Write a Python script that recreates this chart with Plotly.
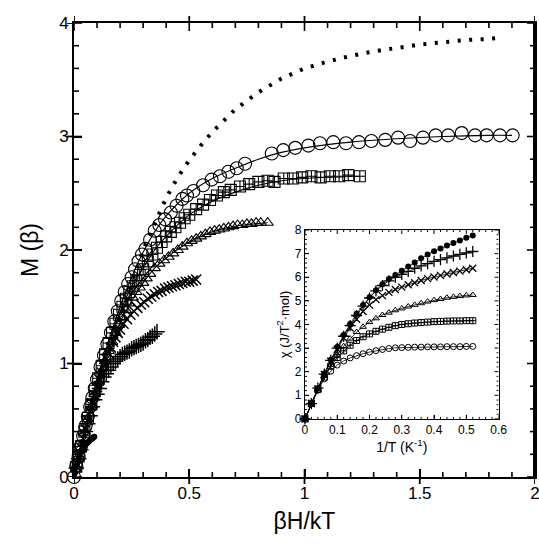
import plotly.graph_objects as go

# ---------------- main panel data ----------------
curve_x = [0, 0.05, 0.1, 0.15, 0.2, 0.25, 0.3, 0.35, 0.4, 0.45, 0.5, 0.55, 0.6, 0.7, 0.8,
           0.9, 1.0, 1.1, 1.2, 1.3, 1.4, 1.5, 1.6, 1.7, 1.8, 1.85]
curve_y = [0, 0.37, 0.73, 1.07, 1.4, 1.71, 2.0, 2.24, 2.46, 2.64, 2.79, 2.92, 3.04, 3.24, 3.39,
           3.51, 3.6, 3.66, 3.71, 3.75, 3.78, 3.81, 3.83, 3.85, 3.86, 3.87]

circ_x = [0.0, 0.01, 0.02, 0.03, 0.04, 0.05, 0.06, 0.07, 0.08, 0.09,
          0.1, 0.115, 0.13, 0.145, 0.16, 0.175, 0.19, 0.205, 0.22, 0.235,
          0.25, 0.265, 0.28, 0.295, 0.31, 0.33, 0.35, 0.37, 0.395, 0.42,
          0.445, 0.47, 0.49, 0.518, 0.56, 0.597, 0.633, 0.67, 0.706, 0.742,
          0.858, 0.908, 0.96, 1.017, 1.067, 1.125, 1.18, 1.236, 1.29, 1.35,
          1.406, 1.458, 1.514, 1.569, 1.623, 1.682, 1.74, 1.79, 1.848, 1.903]
circ_y = [0.0, 0.1, 0.18, 0.27, 0.36, 0.45, 0.53, 0.62, 0.7, 0.78,
          0.86, 0.97, 1.07, 1.17, 1.27, 1.37, 1.46, 1.55, 1.63, 1.7,
          1.76, 1.83, 1.9, 1.96, 2.01, 2.09, 2.17, 2.22, 2.27, 2.33,
          2.39, 2.45, 2.48, 2.52, 2.57, 2.62, 2.65, 2.69, 2.72, 2.76,
          2.85, 2.88, 2.9, 2.92, 2.94, 2.95, 2.94, 2.95, 2.96, 2.97,
          2.99, 2.96, 2.99, 3.01, 3.01, 3.03, 3.01, 3.01, 3.01, 3.01]
circ_fit_x = [0, 0.05, 0.1, 0.15, 0.2, 0.25, 0.3, 0.35, 0.4, 0.5, 0.6, 0.7, 0.8, 0.9, 1.0, 1.2, 1.4, 1.6, 1.8, 1.9]
circ_fit_y = [0, 0.45, 0.86, 1.2, 1.5, 1.76, 1.98, 2.16, 2.3, 2.5, 2.63, 2.72, 2.8, 2.86, 2.9, 2.95, 2.98, 3.0, 3.01, 3.01]

sq_x = [0.01, 0.02, 0.03, 0.045, 0.06, 0.075, 0.09, 0.105, 0.12, 0.135,
        0.15, 0.165, 0.18, 0.195, 0.21, 0.225, 0.24, 0.255, 0.27, 0.285,
        0.3, 0.32, 0.34, 0.36, 0.38, 0.4, 0.42, 0.44, 0.46, 0.48,
        0.5, 0.53, 0.56, 0.59, 0.62, 0.65, 0.68, 0.72, 0.76, 0.8,
        0.84, 0.87, 0.91, 0.95, 0.99, 1.03, 1.07, 1.11, 1.15, 1.19, 1.24]
sq_y = [0.09, 0.18, 0.27, 0.4, 0.52, 0.64, 0.76, 0.87, 0.98, 1.08,
        1.18, 1.27, 1.35, 1.43, 1.5, 1.57, 1.63, 1.68, 1.73, 1.78,
        1.83, 1.9, 1.96, 2.02, 2.07, 2.12, 2.16, 2.2, 2.24, 2.28,
        2.31, 2.36, 2.4, 2.44, 2.48, 2.51, 2.53, 2.56, 2.58, 2.6,
        2.61, 2.6, 2.63, 2.63, 2.64, 2.65, 2.64, 2.65, 2.65, 2.66, 2.65]
sq_fit_x = [0, 0.05, 0.1, 0.15, 0.2, 0.25, 0.3, 0.35, 0.4, 0.5, 0.6, 0.7, 0.8, 0.9, 1.0, 1.1, 1.24]
sq_fit_y = [0, 0.44, 0.83, 1.17, 1.45, 1.68, 1.84, 2.0, 2.12, 2.31, 2.43, 2.51, 2.57, 2.61, 2.63, 2.64, 2.65]

tri_x = [0.01, 0.02, 0.03, 0.045, 0.06, 0.075, 0.09, 0.105, 0.12, 0.135,
         0.15, 0.165, 0.18, 0.195, 0.21, 0.225, 0.24, 0.255, 0.27, 0.285,
         0.3, 0.315, 0.33, 0.35, 0.37, 0.39, 0.41, 0.43, 0.45, 0.47,
         0.49, 0.51, 0.53, 0.55, 0.57, 0.59, 0.61, 0.63, 0.65, 0.67,
         0.69, 0.71, 0.73, 0.75, 0.77, 0.79, 0.81, 0.84]
tri_y = [0.09, 0.18, 0.26, 0.39, 0.51, 0.62, 0.73, 0.83, 0.93, 1.02,
         1.11, 1.19, 1.27, 1.34, 1.41, 1.47, 1.53, 1.58, 1.63, 1.67,
         1.71, 1.75, 1.79, 1.84, 1.88, 1.91, 1.94, 1.97, 2.0, 2.03,
         2.06, 2.08, 2.1, 2.12, 2.14, 2.16, 2.17, 2.18, 2.19, 2.2,
         2.21, 2.22, 2.22, 2.23, 2.23, 2.24, 2.24, 2.24]
tri_fit_x = [0, 0.05, 0.1, 0.15, 0.2, 0.25, 0.3, 0.35, 0.4, 0.5, 0.6, 0.7, 0.84]
tri_fit_y = [0, 0.43, 0.8, 1.1, 1.36, 1.55, 1.71, 1.84, 1.93, 2.07, 2.16, 2.21, 2.24]

xc_x = [0.01, 0.02, 0.03, 0.04, 0.05, 0.06, 0.07, 0.08, 0.09, 0.1,
        0.11, 0.12, 0.13, 0.14, 0.15, 0.16, 0.17, 0.18, 0.19, 0.2,
        0.215, 0.23, 0.245, 0.26, 0.275, 0.29, 0.305, 0.32, 0.335, 0.35,
        0.365, 0.38, 0.395, 0.41, 0.425, 0.44, 0.455, 0.47, 0.485, 0.5, 0.515, 0.53]
xc_y = [0.09, 0.18, 0.26, 0.34, 0.42, 0.5, 0.58, 0.65, 0.72, 0.79,
        0.86, 0.92, 0.98, 1.04, 1.09, 1.14, 1.19, 1.23, 1.27, 1.3,
        1.35, 1.39, 1.43, 1.46, 1.49, 1.52, 1.54, 1.57, 1.59, 1.61,
        1.63, 1.64, 1.66, 1.67, 1.68, 1.69, 1.7, 1.71, 1.72, 1.72, 1.73, 1.74]

pl_x = [0.01, 0.02, 0.03, 0.04, 0.05, 0.06, 0.07, 0.08, 0.09, 0.1,
        0.11, 0.12, 0.13, 0.14, 0.15, 0.16, 0.17, 0.18, 0.19, 0.2,
        0.21, 0.22, 0.23, 0.24, 0.25, 0.26, 0.27, 0.28, 0.29, 0.3,
        0.31, 0.32, 0.33, 0.34, 0.35, 0.36]
pl_y = [0.08, 0.16, 0.24, 0.32, 0.4, 0.47, 0.54, 0.62, 0.68, 0.73,
        0.78, 0.84, 0.88, 0.91, 0.94, 0.97, 1.0, 1.02, 1.04, 1.06,
        1.08, 1.09, 1.1, 1.11, 1.13, 1.14, 1.15, 1.16, 1.17, 1.18,
        1.2, 1.21, 1.23, 1.24, 1.26, 1.28]

fc_x = [0.005, 0.01, 0.015, 0.02, 0.025, 0.03, 0.035, 0.04, 0.045, 0.05,
        0.055, 0.06, 0.065, 0.07, 0.075, 0.08, 0.085, 0.088]
fc_y = [0.04, 0.085, 0.125, 0.16, 0.19, 0.22, 0.24, 0.26, 0.275, 0.285,
        0.295, 0.305, 0.315, 0.325, 0.335, 0.34, 0.35, 0.355]

# ---------------- inset data ----------------
inv_t = [0, 0.02, 0.04, 0.06, 0.08, 0.1, 0.12, 0.14, 0.16, 0.18, 0.2, 0.22, 0.24, 0.26,
         0.28, 0.3, 0.32, 0.34, 0.36, 0.38, 0.4, 0.42, 0.44, 0.46, 0.48, 0.5, 0.52]
chi_filled = [0, 0.65, 1.3, 1.92, 2.5, 3.05, 3.55, 4.02, 4.45, 4.82, 5.15, 5.45, 5.7, 5.92,
              6.1, 6.27, 6.45, 6.62, 6.8, 6.96, 7.1, 7.22, 7.34, 7.45, 7.56, 7.67, 7.77]
chi_plus = [0, 0.65, 1.3, 1.9, 2.48, 3.0, 3.5, 3.95, 4.38, 4.78, 5.12, 5.42, 5.65, 5.85,
            6.0, 6.12, 6.25, 6.38, 6.48, 6.58, 6.67, 6.75, 6.82, 6.9, 6.97, 7.03, 7.09]
chi_x = [0, 0.65, 1.28, 1.88, 2.44, 2.95, 3.42, 3.85, 4.22, 4.55, 4.82, 5.05, 5.22, 5.36,
         5.48, 5.58, 5.68, 5.77, 5.86, 5.94, 6.01, 6.08, 6.14, 6.2, 6.26, 6.32, 6.38]
chi_tri = [0, 0.65, 1.27, 1.82, 2.3, 2.72, 3.08, 3.4, 3.68, 3.9, 4.1, 4.26, 4.4, 4.5,
           4.6, 4.68, 4.76, 4.83, 4.9, 4.97, 5.03, 5.08, 5.13, 5.17, 5.2, 5.23, 5.25]
chi_sq = [0, 0.66, 1.25, 1.77, 2.23, 2.6, 2.88, 3.12, 3.32, 3.48, 3.6, 3.71, 3.8, 3.88,
          3.95, 4.0, 4.03, 4.06, 4.08, 4.1, 4.12, 4.13, 4.14, 4.15, 4.15, 4.16, 4.16]
chi_circ = [0, 0.65, 1.22, 1.7, 2.02, 2.28, 2.45, 2.58, 2.68, 2.76, 2.83, 2.89, 2.94, 2.98,
            3.01, 3.02, 3.03, 3.04, 3.04, 3.05, 3.05, 3.05, 3.06, 3.06, 3.06, 3.07, 3.07]

# ---------------- tick positions ----------------
main_x_major = [0, 0.5, 1, 1.5, 2]
main_x_minor = [round(0.1 * i, 2) for i in range(21) if i % 5]
main_y_major = [0, 1, 2, 3, 4]
main_y_minor = [round(0.2 * i, 2) for i in range(21) if i % 5]
ins_x_major = [0, 0.1, 0.2, 0.3, 0.4, 0.5, 0.6]
ins_x_minor = [round(0.02 * i, 3) for i in range(31) if i % 5]
ins_y_major = [0, 1, 2, 3, 4, 5, 6, 7, 8]
ins_y_minor = [round(0.2 * i, 2) for i in range(41) if i % 5]

K = "black"
PW, PH = 461.0, 454.0           # main plot-area size in px
IX0, IX1 = 0.501, 0.921         # inset domain (paper)
IY0, IY1 = 0.128, 0.544
XR, YR = (0, 2), (0, 4)
IXR, IYR = (0, 0.6), (0, 8)

fig = go.Figure()

fig.add_trace(go.Scatter(x=curve_x, y=curve_y, mode="lines",
                         line=dict(color=K, width=4, dash="3px,8.5px")))
for fx, fy in [(circ_fit_x, circ_fit_y), (sq_fit_x, sq_fit_y), (tri_fit_x, tri_fit_y)]:
    fig.add_trace(go.Scatter(x=fx, y=fy, mode="lines", line=dict(color=K, width=1.1, shape="spline")))

def mk(symbol, size, lw):
    return dict(symbol=symbol, size=size, color=K, line=dict(color=K, width=lw))

fig.add_trace(go.Scatter(x=fc_x, y=fc_y, mode="markers", cliponaxis=False, marker=mk("circle", 6, 0)))
fig.add_trace(go.Scatter(x=pl_x, y=pl_y, mode="markers", cliponaxis=False, marker=mk("cross-thin-open", 11, 1.5)))
fig.add_trace(go.Scatter(x=xc_x, y=xc_y, mode="markers", cliponaxis=False, marker=mk("x-thin-open", 10, 1.5)))
fig.add_trace(go.Scatter(x=tri_x, y=tri_y, mode="markers", cliponaxis=False, marker=mk("triangle-up-open", 10, 1.1)))
fig.add_trace(go.Scatter(x=sq_x, y=sq_y, mode="markers", cliponaxis=False, marker=mk("square-cross-open", 11, 1.1)))
fig.add_trace(go.Scatter(x=circ_x, y=circ_y, mode="markers", cliponaxis=False, marker=mk("circle-open", 13, 1.1)))

inset_series = [
    (chi_circ, "circle-open", 6, 1.0),
    (chi_sq, "square-cross-open", 6, 1.0),
    (chi_tri, "triangle-up-open", 6, 1.0),
    (chi_x, "x-thin-open", 7, 1.3),
    (chi_plus, "cross-thin-open", 8, 1.3),
    (chi_filled, "circle", 6, 0),
]
for cy, sym, sz, lw in inset_series:
    fig.add_trace(go.Scatter(x=inv_t, y=cy, mode="lines+markers", xaxis="x2", yaxis="y2",
                             cliponaxis=False, line=dict(color=K, width=0.8),
                             marker=mk(sym, sz, lw)))

# ---------------- inward tick marks as line traces (built from the tick lists) ----------------
def tick_trace(xmaj, xmin, ymaj, ymin, xr, yr, wpx, hpx, lmaj, lmin, width, xa, ya):
    dx = (xr[1] - xr[0]) / wpx   # data units per px
    dy = (yr[1] - yr[0]) / hpx
    xs, ys = [], []
    for vals, ln in ((xmaj, lmaj), (xmin, lmin)):
        for v in vals:
            xs += [v, v, None, v, v, None]
            ys += [yr[0], yr[0] + ln * dy, None, yr[1], yr[1] - ln * dy, None]
    for vals, ln in ((ymaj, lmaj), (ymin, lmin)):
        for v in vals:
            xs += [xr[0], xr[0] + ln * dx, None, xr[1], xr[1] - ln * dx, None]
            ys += [v, v, None, v, v, None]
    return go.Scatter(x=xs, y=ys, mode="lines", xaxis=xa, yaxis=ya, hoverinfo="skip",
                      line=dict(color=K, width=width))

fig.add_trace(tick_trace(main_x_major, main_x_minor, main_y_major, main_y_minor,
                         XR, YR, PW, PH, 8, 5, 1.6, "x", "y"))
fig.add_trace(tick_trace(ins_x_major, ins_x_minor, ins_y_major, ins_y_minor,
                         IXR, IYR, (IX1 - IX0) * PW, (IY1 - IY0) * PH, 4, 2, 1.0, "x2", "y2"))
# right-hand frame edge of the main panel
fig.add_trace(go.Scatter(x=[XR[1], XR[1]], y=[YR[0], YR[1]], mode="lines", hoverinfo="skip",
                         line=dict(color=K, width=4)))

# outward halves of the main major ticks (shapes)
shapes = []
for v in main_x_major:
    shapes.append(dict(type="line", xref="x", yref="paper", x0=v, x1=v, y0=-7 / PH, y1=0,
                       line=dict(color=K, width=1.8)))
    shapes.append(dict(type="line", xref="x", yref="paper", x0=v, x1=v, y0=1, y1=1 + 7 / PH,
                       line=dict(color=K, width=1.8)))
for v in main_y_major:
    shapes.append(dict(type="line", xref="paper", yref="y", x0=-7 / PW, x1=0, y0=v, y1=v,
                       line=dict(color=K, width=1.8)))

font = "Liberation Sans, Arial, sans-serif"
fig.update_layout(
    template="none",
    width=539, height=546,
    margin=dict(l=74, r=4, t=23, b=69, autoexpand=False),
    paper_bgcolor="white", plot_bgcolor="white",
    showlegend=False,
    shapes=shapes,
    font=dict(family=font, color=K),
    xaxis=dict(range=list(XR), domain=[0, 1], anchor="y", automargin=False,
               tickmode="linear", tick0=0, dtick=0.5, ticklabeloverflow="allow",
               ticks="inside", ticklen=8, tickwidth=1.8, tickcolor=K,
               showline=True, linewidth=2, linecolor=K, mirror=True,
               showgrid=False, zeroline=False,
               tickfont=dict(size=17, family=font),
               title=dict(text="βH/kT", font=dict(size=23, family=font), standoff=10)),
    yaxis=dict(range=list(YR), domain=[0, 1], anchor="x", automargin=False,
               tickmode="linear", tick0=0, dtick=1, ticklabeloverflow="allow",
               ticks="inside", ticklen=8, tickwidth=1.8, tickcolor=K,
               showline=True, linewidth=2, linecolor=K, mirror=True,
               showgrid=False, zeroline=False,
               tickfont=dict(size=17, family=font),
               title=dict(text="M (β)", font=dict(size=23, family=font), standoff=14)),
    xaxis2=dict(range=list(IXR), domain=[IX0, IX1], anchor="y2", automargin=False,
                tickmode="linear", tick0=0, dtick=0.1,
                ticks="inside", ticklen=4, tickwidth=1, tickcolor=K,
                showline=True, linewidth=1.3, linecolor=K, mirror=True,
                showgrid=False, zeroline=False,
                tickfont=dict(size=12, family=font),
                title=dict(text="1/T (K<sup>-1</sup>)", font=dict(size=14, family=font), standoff=2)),
    yaxis2=dict(range=list(IYR), domain=[IY0, IY1], anchor="x2", automargin=False,
                tickmode="linear", tick0=0, dtick=1,
                ticks="inside", ticklen=4, tickwidth=1, tickcolor=K,
                showline=True, linewidth=1.3, linecolor=K, mirror=True,
                showgrid=False, zeroline=False,
                tickfont=dict(size=12, family=font),
                title=dict(text="χ (J/T<sup>2</sup>·mol)", font=dict(size=13, family=font), standoff=2)),
)

fig.write_html("out.html", config={"displayModeBar": False},
               post_script="document.body.style.margin='0';document.body.style.overflow='hidden';")
